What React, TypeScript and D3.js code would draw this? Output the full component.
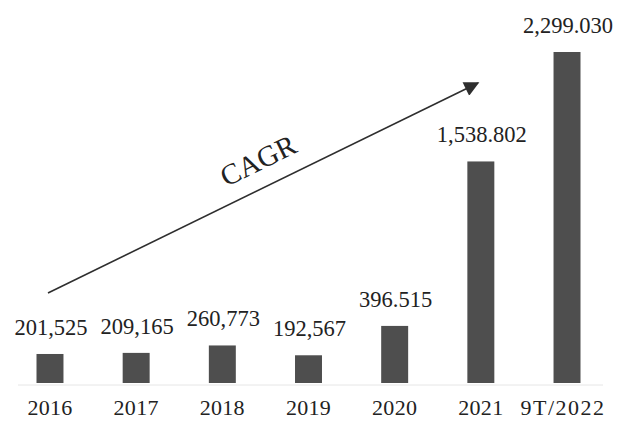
import React from "react";
import * as d3 from "d3";

const categories = ["2016", "2017", "2018", "2019", "2020", "2021", "9T/2022"];
const values = [201525, 209165, 260773, 192567, 396515, 1538802, 2299030];
const valueLabels = ["201,525", "209,165", "260,773", "192,567", "396.515", "1,538.802", "2,299.030"];
const arrowLabel = "CAGR";

const W = 619;
const H = 421;

export default function App() {
  const baseline = 383;
  const top = 52;
  const x = d3
    .scaleBand<string>()
    .domain(categories)
    .range([36.5, 580.5])
    .paddingInner(0.687)
    .paddingOuter(0);
  const y = d3.scaleLinear().domain([0, 2299030]).range([baseline, top]);

  const ax0 = 48, ay0 = 293, ax1 = 478, ay1 = 83;
  const angleRad = Math.atan2(ay1 - ay0, ax1 - ax0);
  const angle = (angleRad * 180) / Math.PI;
  const tx = 270;
  const lineY = ay0 + (ay1 - ay0) * ((tx - ax0) / (ax1 - ax0));
  const off = 17;
  const px = tx + off * Math.sin(angleRad);
  const py = lineY - off * Math.cos(angleRad);
  const font = "'Liberation Serif', 'Times New Roman', serif";

  return (
    <svg
      width={W}
      height={H}
      style={{ position: "absolute", left: 0, top: 0, background: "#fff" }}
      fontFamily={font}
    >
      <defs>
        <marker
          id="ah"
          viewBox="0 0 10 10"
          refX="9"
          refY="5"
          markerWidth="17"
          markerHeight="15"
          markerUnits="userSpaceOnUse"
          orient="auto"
        >
          <path d="M0,0 L10,5 L0,10 z" fill="#2e2e2e" />
        </marker>
      </defs>
      <rect width={W} height={H} fill="#fff" />
      <line x1={18} x2={603} y1={baseline + 2} y2={baseline + 2} stroke="#e6e6e6" strokeWidth={1} />
      {categories.map((c, i) => (
        <g key={c}>
          <rect
            x={x(c)!}
            y={y(values[i])}
            width={x.bandwidth()}
            height={baseline - y(values[i])}
            fill="#4e4e4e"
          />
          <text
            x={x(c)! + x.bandwidth() / 2 + 1}
            y={y(values[i]) - 19}
            textAnchor="middle"
            fontSize={22.5}
            fill="#222"
          >
            {valueLabels[i]}
          </text>
          <text
            x={x(c)! + x.bandwidth() / 2 + (i === 6 ? -4 : 0)}
            y={H - 6}
            textAnchor="middle"
            fontSize={22}
            letterSpacing={i === 6 ? 1.5 : 0.3}
            fill="#222"
          >
            {c}
          </text>
        </g>
      ))}
      <line
        x1={ax0}
        y1={ay0}
        x2={ax1}
        y2={ay1}
        stroke="#2e2e2e"
        strokeWidth={1.6}
        markerEnd="url(#ah)"
      />
      <text
        transform={`translate(${px},${py}) rotate(${angle})`}
        textAnchor="middle"
        fontSize={29}
        fill="#222"
      >
        {arrowLabel}
      </text>
    </svg>
  );
}
